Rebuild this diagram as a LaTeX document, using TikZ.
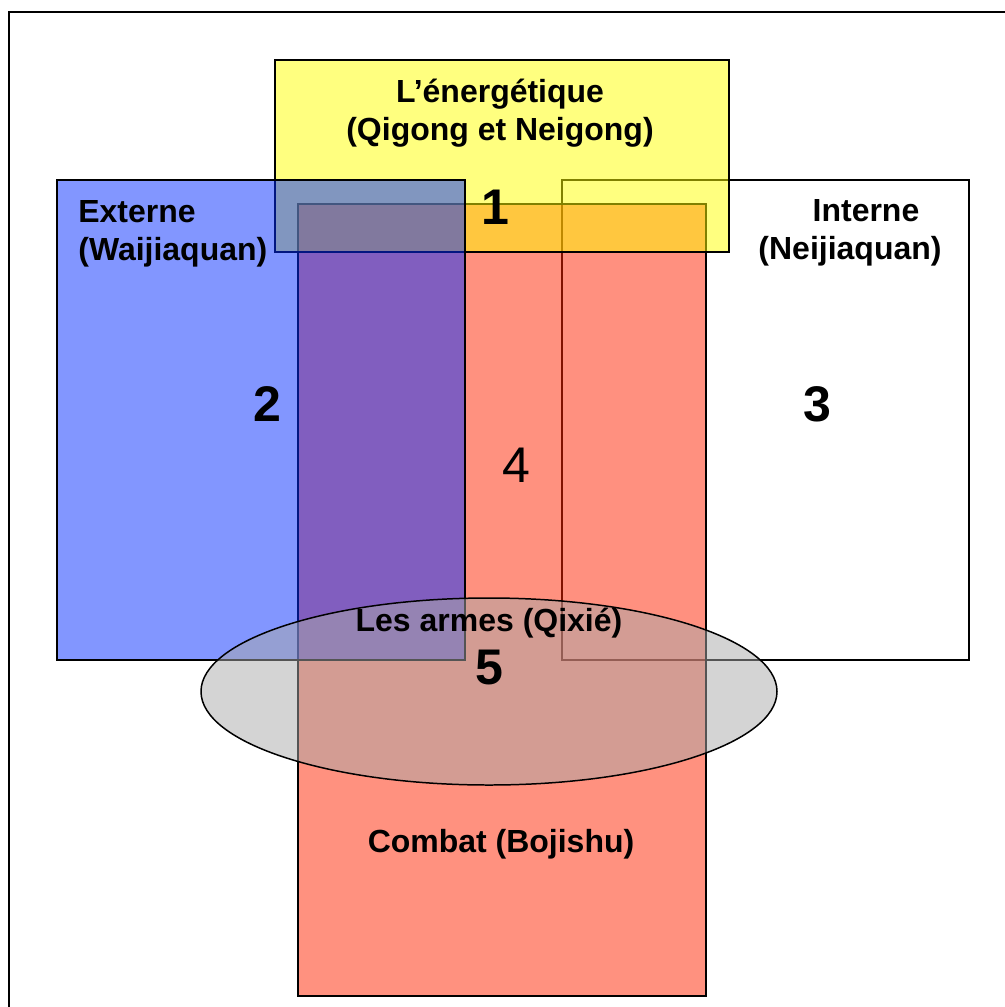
\documentclass[tikz,border=0pt]{standalone}
\usepackage{fontspec}
\setmainfont{Liberation Sans}
\usepackage{tikz}
\usetikzlibrary{positioning}
\usetikzlibrary{shapes.geometric}
\pgfdeclarelayer{boxlayer}
\pgfsetlayers{boxlayer,main}
\definecolor{jaune}{RGB}{255,255,0}
\definecolor{bleu}{RGB}{5,45,255}
\definecolor{rouge}{RGB}{255,35,0}
\definecolor{gris}{RGB}{169,169,169}
\tikzset{
    none/.style = {inner sep=0pt},
    box/.style = {draw, line width=0.85pt, inner sep=0pt, outer sep=0pt, fill opacity=0.5},
    lbl/.style = {inner sep=0pt, align=center, font=\fontsize{18.2}{21.5}\selectfont\bfseries},
    num/.style = {inner sep=0pt, font=\fontsize{28.5}{30}\selectfont\bfseries}
}

\begin{document}
\begin{tikzpicture}
    \useasboundingbox (0, 0) rectangle (20.08, -20.14);
    \clip (0, 0) rectangle (20.08, -20.14);
    \begin{pgfonlayer}{boxlayer}
        % outer frame, cut by the page on the right and at the bottom
        \draw [line width=1.4pt] (0.18, -21) -- (0.18, -0.24) -- (21, -0.24);
        \node [box, fill=white, fill opacity=1, minimum width=8.14cm, minimum height=9.6cm] (1) at (15.31, -8.4) {};
        \node [box, fill=rouge, minimum width=8.16cm, minimum height=15.84cm] (2) at (10.04, -12) {};
        \node [box, fill=jaune, minimum width=9.08cm, minimum height=3.84cm] (3) at (10.04, -3.12) {};
        \node [box, fill=bleu, minimum width=8.16cm, minimum height=9.6cm] (4) at (5.22, -8.4) {};
        \node [box, ellipse, fill=gris, minimum width=11.52cm, minimum height=3.74cm] (5) at (9.78, -13.83) {};
    \end{pgfonlayer}
    \node [style=lbl] (6) at (10, -2.26) {L’énergétique\\(Qigong et Neigong)};
    \node [style=lbl, align=left, anchor=west] (7) at (1.56, -4.67) {Externe\\(Waijiaquan)};
    \node [style=lbl] (8) at (17, -4.65) {\hspace*{1em}Interne\\(Neijiaquan)};
    \node [style=lbl] (9) at (9.78, -12.46) {Les armes (Qixié)};
    \node [style=lbl] (10) at (10.02, -16.88) {Combat (Bojishu)};
    \node [style=num] (11) at (9.9, -4.14) {1};
    \node [style=num] (12) at (5.34, -8.08) {2};
    \node [style=num] (13) at (16.34, -8.08) {3};
    \node [style=num, font=\fontsize{28.5}{30}\selectfont] (14) at (10.32, -9.3) {4};
    \node [style=num] (15) at (9.78, -13.36) {5};
\end{tikzpicture}
\end{document}
